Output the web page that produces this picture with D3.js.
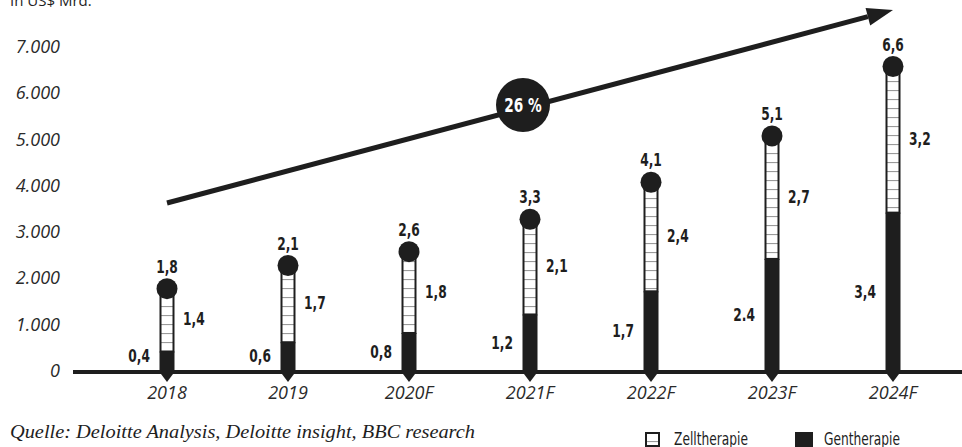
<!DOCTYPE html>
<html>
<head>
<meta charset="utf-8">
<script src="https://cdn.jsdelivr.net/npm/d3@7"></script>
<style>
  body { margin: 0; background: #fff; }
  svg { display: block; }
  .num { font-family: "DejaVu Sans", sans-serif; font-weight: bold; font-size: 17px; fill: #1e1e1e; }
  .cond { font-family: "DejaVu Sans", sans-serif; font-size: 17px; fill: #1e1e1e; }
  .tick { font-family: "Open Sans", "DejaVu Sans", sans-serif; font-style: italic; font-size: 18px; fill: #2a2a2a; }
</style>
</head>
<body>
<div id="chart"></div>
<script>
// years on the x axis
const years = ["2018", "2019", "2020F", "2021F", "2022F", "2023F", "2024F"];
// Gentherapie and Zelltherapie, US$ Mrd.
const gene = [0.4, 0.6, 0.8, 1.2, 1.7, 2.4, 3.4];
const zell = [1.4, 1.7, 1.8, 2.1, 2.4, 2.7, 3.2];
// labels as printed (note 2023 gene label uses a dot)
const geneLabels = ["0,4", "0,6", "0,8", "1,2", "1,7", "2.4", "3,4"];
const zellLabels = ["1,4", "1,7", "1,8", "2,1", "2,4", "2,7", "3,2"];
const totalLabels = ["1,8", "2,1", "2,6", "3,3", "4,1", "5,1", "6,6"];
const yTicks = [0, 1, 2, 3, 4, 5, 6, 7];
const yTickLabels = ["0", "1.000", "2.000", "3.000", "4.000", "5.000", "6.000", "7.000"];
const growth = "26 %";

const W = 962, H = 447;
const DARK = "#1e1e1e";
const BAR_W = 15, R = 10.5;
const SQ = 0.72; // horizontal squeeze to mimic the condensed font

const svg = d3.select("#chart").append("svg").attr("width", W).attr("height", H);

const x = d3.scalePoint().domain(years).range([167, 893]);
const y = d3.scaleLinear().domain([0, 7]).range([370, 46]);

const squeeze = (px, py) => `translate(${px},${py}) scale(${SQ},1)`;

// hatch pattern for zelltherapie
const defs = svg.append("defs");
const pat = defs.append("pattern").attr("id", "hatch")
  .attr("patternUnits", "userSpaceOnUse").attr("width", 20).attr("height", 9);
pat.append("rect").attr("width", 20).attr("height", 9).attr("fill", "#fff");
pat.append("line").attr("x1", 0).attr("x2", 20).attr("y1", 0.5).attr("y2", 0.5)
  .attr("stroke", "#9a9a9a").attr("stroke-width", 1.2);

// unit label (cut at the top in the original)
svg.append("text").attr("x", 10).attr("y", 6)
  .attr("font-family", "Open Sans, DejaVu Sans, sans-serif").attr("font-size", 15)
  .attr("fill", DARK).text("In US$ Mrd.");

// y tick labels
svg.selectAll("text.ytick").data(yTicks).enter().append("text")
  .attr("class", "tick ytick")
  .attr("x", 60).attr("y", d => y(d))
  .attr("text-anchor", "end").attr("dominant-baseline", "central")
  .text((d, i) => yTickLabels[i]);

// x labels
svg.selectAll("text.xtick").data(years).enter().append("text")
  .attr("class", "tick xtick")
  .attr("x", d => x(d)).attr("y", 399)
  .attr("text-anchor", "middle")
  .text(d => d);

// growth arrow
const a0 = [x(years[0]), 203], a1 = [893, 10];
const ang = Math.atan2(a1[1] - a0[1], a1[0] - a0[0]);
const headLen = 26, headW = 9;
const base = [a1[0] - headLen * Math.cos(ang), a1[1] - headLen * Math.sin(ang)];
svg.append("line").attr("x1", a0[0]).attr("y1", a0[1])
  .attr("x2", base[0]).attr("y2", base[1])
  .attr("stroke", DARK).attr("stroke-width", 5);
svg.append("path")
  .attr("d", d3.line()([
    a1,
    [base[0] + headW * Math.sin(ang), base[1] - headW * Math.cos(ang)],
    [base[0] - headW * Math.sin(ang), base[1] + headW * Math.cos(ang)]
  ]) + "Z")
  .attr("fill", DARK);

svg.append("circle").attr("cx", 523).attr("cy", 105).attr("r", 27).attr("fill", DARK);
svg.append("text").attr("class", "num")
  .attr("transform", squeeze(523, 106))
  .attr("text-anchor", "middle").attr("dominant-baseline", "central")
  .style("font-size", "19px").style("fill", "#fff")
  .text(growth);

// baseline
svg.append("line").attr("x1", 73).attr("x2", W).attr("y1", 372).attr("y2", 372)
  .attr("stroke", DARK).attr("stroke-width", 4);

const rows = years.map((yr, i) => ({ yr, g: gene[i], z: zell[i], t: gene[i] + zell[i], i }));

const bars = svg.selectAll("g.bar").data(rows).enter().append("g").attr("class", "bar");

// zell segment
bars.append("rect")
  .attr("x", d => x(d.yr) - BAR_W / 2 + 1)
  .attr("y", d => y(d.t))
  .attr("width", BAR_W - 2)
  .attr("height", d => y(d.g) - y(d.t))
  .attr("fill", "url(#hatch)")
  .attr("stroke", DARK).attr("stroke-width", 2);

// gene segment
bars.append("rect")
  .attr("x", d => x(d.yr) - BAR_W / 2)
  .attr("y", d => y(d.g))
  .attr("width", BAR_W)
  .attr("height", d => y(0) - y(d.g) + 2)
  .attr("fill", DARK);

// tip below baseline
bars.append("path")
  .attr("d", d => {
    const cx = x(d.yr);
    return `M${cx - BAR_W / 2},372L${cx + BAR_W / 2},372L${cx},382Z`;
  })
  .attr("fill", DARK);

// top knob
bars.append("circle")
  .attr("cx", d => x(d.yr)).attr("cy", d => y(d.t) + 2)
  .attr("r", R).attr("fill", DARK);

// labels
bars.append("text").attr("class", "num")
  .attr("transform", d => squeeze(x(d.yr), y(d.t) - 14))
  .attr("text-anchor", "middle")
  .text(d => totalLabels[d.i]);

bars.append("text").attr("class", "num")
  .attr("transform", d => squeeze(x(d.yr) + 16, (y(d.t) + y(d.g)) / 2))
  .attr("dominant-baseline", "central")
  .text(d => zellLabels[d.i]);

bars.append("text").attr("class", "num")
  .attr("transform", d => squeeze(x(d.yr) - 17, Math.min((y(0) + y(d.g)) / 2, 356)))
  .attr("text-anchor", "end").attr("dominant-baseline", "central")
  .text(d => geneLabels[d.i]);

// source
svg.append("text").attr("x", 10).attr("y", 438)
  .attr("font-family", "Liberation Serif, DejaVu Serif, serif")
  .attr("font-style", "italic").attr("font-size", 18)
  .attr("textLength", 465).attr("lengthAdjust", "spacingAndGlyphs")
  .attr("fill", DARK)
  .text("Quelle: Deloitte Analysis, Deloitte insight, BBC research");

// legend
const leg = svg.append("g").attr("transform", "translate(645,432)");
leg.append("rect").attr("x", 1).attr("y", 1).attr("width", 13).attr("height", 13)
  .attr("fill", "url(#hatch)").attr("stroke", DARK).attr("stroke-width", 2);
leg.append("text").attr("class", "cond").attr("transform", squeeze(29, 13)).text("Zelltherapie");
leg.append("rect").attr("x", 150).attr("y", 0).attr("width", 18).attr("height", 16).attr("fill", DARK);
leg.append("text").attr("class", "cond").attr("transform", squeeze(179, 13)).text("Gentherapie");
</script>
</body>
</html>
